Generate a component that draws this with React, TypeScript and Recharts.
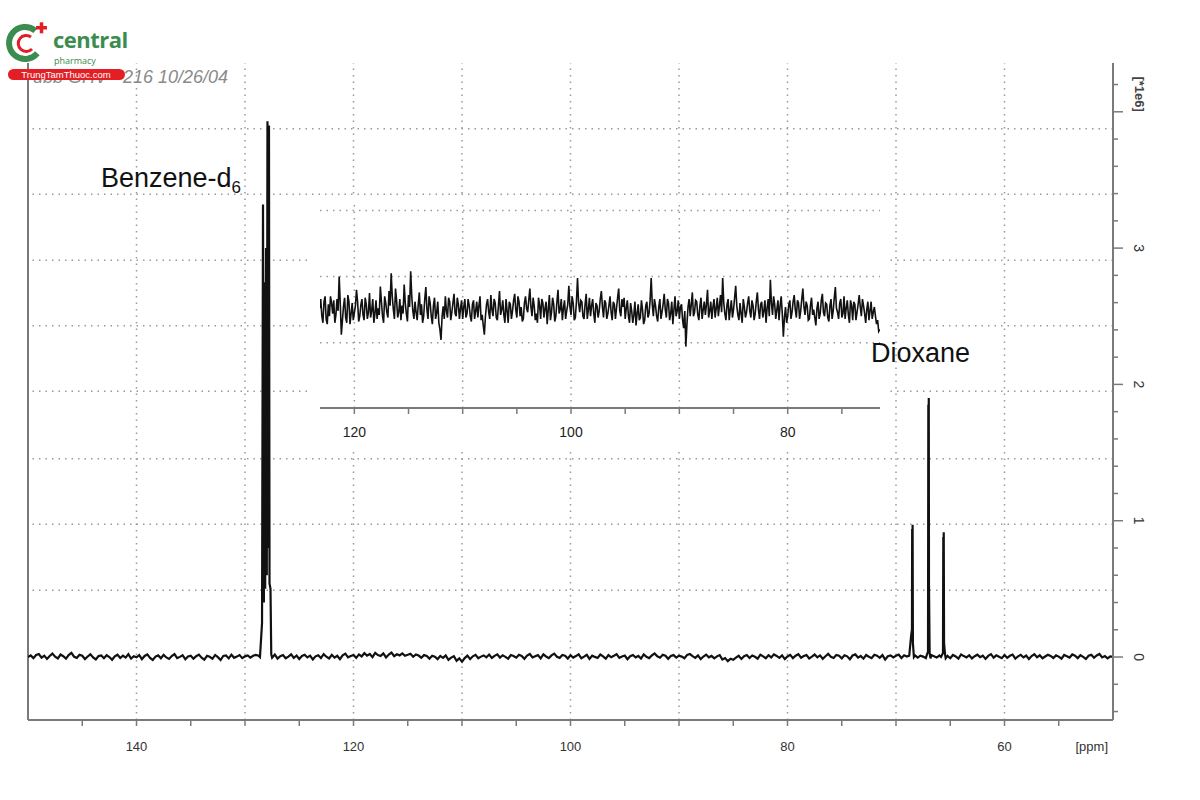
import React from 'react';
import { LineChart, Line, XAxis, YAxis, ReferenceLine } from 'recharts';

const FONT = '"Liberation Sans", Arial, sans-serif';

// baseline of the 13C spectrum, intensity in 1e3 units, read every 0.25 ppm from 150 ppm down to 50 ppm
const baselineStart = 150;
const baselineStep = 0.25;
const baselineMilli = [
  0, 12, -8, 15, 22, -5, 10, -14, 8, 25, 3, -10, 18, 6, -12, 14, 30, 2, -6, 16,
  9, -15, 4, 20, -3, -18, 7, 11, -9, 13, 0, -20, 5, 17, -7, 10, -4, 21, -11, 6,
  -2, 14, -16, 8, 19, -6, -21, 3, 12, -9, 16, -3, -14, 7, 22, -8, 1, 13, -17, 4,
  10, -12, 6, 18, -5, -19, 9, 2, -13, 15, -1, -22, 8, 11, -10, 17, -6, 3, 14, -8,
  5, 12, -4, 9, 16, 10, 0, 0, 0, 0, -5, 18, -12, 6, 15, -9, 3, 20, -7, 11,
  -14, 8, 17, -3, 10, -18, 5, 13, -8, 21, 2, -11, 16, -4, 9, -16, 12, 25, -2, 7,
  15, -6, 19, 4, 28, 10, 22, -1, 30, 14, 8, 26, -3, 18, 33, 6, 20, 12, 27, 9,
  16, 24, 2, 19, 11, -5, 14, 7, -12, 10, 3, -15, 8, -6, 12, -20, -4, 6, -28, -10,
  -34, -8, 10, -15, 5, 16, -9, 3, 12, -2, 18, -7, 9, 20, -4, 13, 1, -12, 15, 7,
  -5, 17, 8, -13, 11, 22, -3, 6, 14, -10, 19, 4, -8, 12, 25, 2, -6, 15, 9, -11,
  13, -4, 7, 20, -9, 3, 16, -14, 10, 1, -7, 18, 5, -12, 14, -2, 9, 21, -6, 4,
  11, -16, 6, 15, -3, 8, -11, 19, 2, -8, 12, 26, 5, -5, 17, 9, -13, 7, 14, -4,
  10, 3, -9, 16, 22, 6, -6, 12, -15, 4, 18, -2, 8, -10, 5, 14, -18, -8, -30, -12,
  -20, -4, 9, -14, 6, 15, -7, 11, 2, -12, 17, 5, -9, 13, -3, 20, 8, -6, 12, -15,
  4, 16, -8, 10, 21, -5, 7, 14, -11, 3, 18, -2, 12, -13, 6, 23, 1, -7, 15, 9,
  -10, 13, 5, -16, 11, 19, -4, 8, -12, 15, 2, -8, 17, 10, -6, 14, -19, 6, 12, -3,
  9, 18, -7, 13, 4, 0, 0, 12, -5, 10, 3, -8, 0, 14, 6, -4, 11, 0, 0, 8,
  -9, 15, 4, -12, 19, 7, -3, 13, -10, 6, 17, -1, 10, -14, 8, 21, -5, 12, 2, -8,
  14, -6, 9, 18, -11, 5, 16, -3, 11, -15, 7, 20, -2, 13, -9, 4, 17, 8, -7, 12,
  3, -12, 15, 6, -4, 19, 10, -8, 13, 1, -14, 9, 16, -6, 11, 22, -3, 7, -10, 5,
  2,
];

// ppm ranges where the peak lists below replace the baseline
const peakWindows = [
  [127.55, 128.65],
  [68.3, 68.8],
  [66.8, 67.2],
  [65.4, 65.9],
];

// benzene-d6 triplet
const benzenePpm = [128.62, 128.43, 128.34, 128.26, 128.2, 128.14, 128.06, 127.99, 127.93, 127.86, 127.79, 127.74, 127.65, 127.58];
const benzeneMilli = [0, 250, 3320, 400, 2750, 500, 3000, 600, 3930, 800, 3900, 540, 500, 20];

// dioxane lines
const dioxanePpm = [68.78, 68.6, 68.53, 68.51, 68.49, 68.47, 68.44, 68.35, 67.18, 67.05, 67.02, 67.0, 66.98, 66.96, 66.9, 66.82, 65.85, 65.67, 65.64, 65.62, 65.6, 65.57, 65.48, 65.42];
const dioxaneMilli = [10, 160, 200, 940, 400, 970, 100, 0, 10, 40, 1850, 600, 1900, 530, 30, -10, 0, 30, 880, 400, 915, 100, 20, -10];

const xTicks = [50, 55, 60, 65, 70, 75, 80, 85, 90, 95, 100, 105, 110, 115, 120, 125, 130, 135, 140, 145];
const xLabels = [140, 120, 100, 80, 60];
const yTicks = [-400, -200, 0, 200, 400, 600, 800, 1000, 1200, 1400, 1600, 1800, 2000, 2200, 2400, 2600, 2800, 3000, 3200, 3400, 3600, 3800, 4000, 4200];
const yLabels = [0, 1000, 2000, 3000];
const gridPpm = [140, 130, 120, 110, 100, 90, 80, 70, 60];
const gridRows = [490, 975, 1455, 1950, 2430, 2910, 3395, 3875];

// inset: expanded baseline, arbitrary units, read every 0.2 ppm from 123.2 ppm
const insetStart = 123.2;
const insetStep = 0.2;
const insetCenti = [
  52, 40, 62, 35, 58, 70, 44, 30, 66, 100, 12, 55, 38, 72, 28, 60, 45, 80, 32, 57,
  42, 68, 36, 75, 48, 30, 64, 52, 85, 40, 70, 46, 78, 105, 50, 82, 38, 66, 56, 88,
  44, 72, 108, 48, 62, 34, 76, 58, 40, 84, 36, 60, 28, 68, 45, 30, 4, 55, 70, 38,
  62, 46, 74, 40, 58, 52, 36, 66, 44, 56, 32, 64, 48, 38, 70, 42, 12, 58, 46, 72,
  40, 60, 34, 78, 50, 42, 66, 30, 58, 48, 74, 38, 62, 54, 36, 70, 46, 82, 40, 56,
  44, 68, 36, 60, 52, 28, 72, 46, 58, 40, 80, 50, 34, 64, 48, 86, 42, 60, 38, 98,
  46, 62, 36, 74, 50, 40, 66, 30, 56, 48, 78, 38, 60, 44, 70, 34, 58, 52, 82, 40,
  54, 36, 64, 30, 48, 42, 26, 58, 38, 50, 34, 62, 44, 98, 40, 56, 32, 66, 46, 74,
  38, 60, 44, 28, 70, 48, 36, 58, 22, -6, 54, 40, 76, 46, 62, 34, 68, 50, 42, 80,
  48, 36, 66, 52, 40, 72, 98, 44, 58, 34, 64, 50, 86, 42, 60, 30, 54, 46, 70, 38,
  56, 44, 76, 36, 62, 48, 30, 66, 95, 42, 58, 50, 34, 70, 9, 54, 40, 64, 46, 72,
  38, 60, 48, 82, 42, 56, 36, 68, 50, 26, 62, 44, 74, 40, 58, 32, 66, 48, 84, 46,
  60, 38, 70, 52, 42, 64, 34, 58, 46, 72, 40, 56, 30, 62, 48, 36, 54, 28, 17,
];
// inset points lying halfway between the ones above (123.1, 122.9, ... ppm)
const insetMidStart = 123.1;
const insetMidCenti = [
  66, 30, 70, 28, 40, 60, 64, 42, 48, 60, 34, 68, 30, 62, 44, 34, 56, 62, 40, 66,
  34, 58, 46, 38, 66, 44, 36, 42, 62, 30, 60, 38, 56, 70, 36, 64, 46, 34, 44, 60,
  32, 54, 70, 36, 46, 58, 42, 30, 66, 50, 70, 40, 56, 36, 62, 20, 40, 36, 48, 68,
  34, 60, 44, 68, 36, 64, 54, 38, 66, 40, 58, 36, 62, 56, 34, 26, 40, 66, 36, 50,
  66, 38, 56, 42, 64, 30, 48, 62, 36, 64, 50, 70, 40, 32, 60, 52, 64, 54, 68, 34,
  30, 56, 66, 38, 62, 50, 34, 68, 32, 62, 44, 66, 52, 36, 58, 54, 70, 34, 62, 60,
  64, 40, 58, 36, 68, 56, 44, 60, 38, 66, 54, 64, 36, 56, 46, 62, 36, 68, 48, 66,
  68, 52, 40, 60, 30, 62, 44, 34, 64, 28, 56, 38, 64, 58, 66, 40, 54, 36, 58, 50,
  66, 34, 62, 50, 40, 64, 54, 34, 48, 28, 66, 58, 40, 64, 42, 56, 36, 62, 58, 38,
  62, 54, 38, 68, 56, 46, 60, 34, 66, 50, 38, 68, 56, 34, 44, 66, 38, 60, 48, 64,
  34, 62, 50, 58, 38, 64, 52, 40, 60, 70, 36, 64, 56, 44, 38, 30, 58, 36, 62, 50,
  64, 36, 66, 54, 62, 34, 56, 42, 38, 52, 36, 64, 46, 60, 38, 56, 36, 68, 52, 36,
  66, 44, 36, 64, 30, 56, 62, 34, 58, 54, 66, 44, 50, 34, 62, 46, 40, 34, 20,
];
const insetTicks = [75, 80, 85, 90, 95, 100, 105, 110, 115, 120];
const insetLabels = [120, 100, 80];
const insetGridPpm = [120, 110, 100, 90, 80];
const insetGridRows = [0, 100, 200];

const inWindow = (p: number) => peakWindows.some(([a, b]) => p > a && p < b);

const mainData = [
  ...baselineMilli.map((v, i) => ({ ppm: baselineStart - i * baselineStep, v })).filter((r) => !inWindow(r.ppm)),
  ...benzenePpm.map((p, i) => ({ ppm: p, v: benzeneMilli[i] })),
  ...dioxanePpm.map((p, i) => ({ ppm: p, v: dioxaneMilli[i] })),
].sort((a, b) => b.ppm - a.ppm);

const insetData = [
  ...insetCenti.map((v, i) => ({ ppm: insetStart - i * insetStep, v })),
  ...insetMidCenti.map((v, i) => ({ ppm: insetMidStart - i * insetStep, v })),
].sort((a, b) => b.ppm - a.ppm);

const AXIS = '#7a7a7a';
const GRID = '#9a9a9a';

const MainXTick = ({ x, y, payload }: any) => {
  const v = payload.value;
  return (
    <g>
      {v > 50 && v < 150 && <line x1={x} x2={x} y1={y} y2={y + 6} stroke={AXIS} strokeWidth={1.5} />}
      {xLabels.includes(v) && (
        <text x={x} y={y + 31} textAnchor="middle" fontSize={13} fill="#333" fontFamily={FONT}>{v}</text>
      )}
      {v === 50 && (
        <text x={x - 5} y={y + 31} textAnchor="end" fontSize={13} fill="#333" fontFamily={FONT}>[ppm]</text>
      )}
    </g>
  );
};

const MainYTick = ({ x, y, payload }: any) => {
  const v = payload.value;
  const major = v % 1000 === 0;
  return (
    <g>
      <line x1={x} x2={x + (major ? 10 : 5)} y1={y} y2={y} stroke={AXIS} strokeWidth={1.5} />
      {yLabels.includes(v) && (
        <text transform={`translate(${x + 26},${y}) rotate(90)`} textAnchor="middle" dominantBaseline="central" fontSize={14} fill="#333" fontFamily={FONT}>
          {v / 1000}
        </text>
      )}
      {v === 4000 && (
        <text transform={`translate(${x + 26},${y}) rotate(90)`} textAnchor="end" dominantBaseline="central" fontSize={13} fontWeight="bold" fill="#444" fontFamily={FONT}>
          [*1e6]
        </text>
      )}
    </g>
  );
};

const InsetXTick = ({ x, y, payload }: any) => {
  const v = payload.value;
  return (
    <g>
      <line x1={x} x2={x} y1={y} y2={y + 6} stroke={AXIS} strokeWidth={1.5} />
      {insetLabels.includes(v) && (
        <text x={x} y={y + 29} textAnchor="middle" fontSize={14} fill="#222" fontFamily={FONT}>{v}</text>
      )}
    </g>
  );
};

const Logo = () => (
  <g>
    <path d="M 35.3 30.7 A 16 16 0 1 0 37.3 53.3" stroke="#3b8d4f" strokeWidth={6} fill="none" />
    <path d="M 31 37 A 8 8 0 1 0 32 49" stroke="#e31e24" strokeWidth={3} fill="none" />
    <rect x={36} y={26} width={11} height={3.5} fill="#e31e24" />
    <rect x={39.75} y={22.3} width={3.5} height={11} fill="#e31e24" />
    <text x={53} y={48} fontSize={22} fontWeight="bold" fill="#3b8d4f" fontFamily='"Open Sans", sans-serif' letterSpacing={-0.5}>central</text>
    <text x={54} y={64} fontSize={9} fill="#3b8d4f" fontFamily='"Open Sans", sans-serif'>pharmacy</text>
  </g>
);

export default function App() {
  return (
    <div style={{ position: 'absolute', left: 0, top: 0, width: 1200, height: 800, background: '#fff', overflow: 'hidden' }}>
      <div style={{ position: 'absolute', left: 0, top: 0 }}>
        <LineChart width={1200} height={800} data={mainData} margin={{ top: 63, right: 27, bottom: 40, left: 28 }}>
          <XAxis
            dataKey="ppm"
            type="number"
            domain={[50, 150]}
            reversed
            allowDataOverflow
            ticks={xTicks}
            interval={0}
            height={40}
            tickSize={0}
            tickMargin={0}
            tickLine={false}
            axisLine={{ stroke: AXIS, strokeWidth: 2 }}
            tick={<MainXTick />}
          />
          <YAxis
            orientation="right"
            type="number"
            domain={[-462, 4358]}
            allowDataOverflow
            ticks={yTicks}
            interval={0}
            width={60}
            tickSize={0}
            tickMargin={0}
            tickLine={false}
            axisLine={{ stroke: AXIS, strokeWidth: 2 }}
            tick={<MainYTick />}
          />
          {gridPpm.map((p) => (
            <ReferenceLine key={`gx${p}`} x={p} stroke={GRID} strokeWidth={1.5} strokeDasharray="1.5 5" />
          ))}
          {gridRows.map((r) => (
            <ReferenceLine key={`gy${r}`} y={r} stroke={GRID} strokeWidth={1.5} strokeDasharray="1.5 5" />
          ))}
          <ReferenceLine x={150} stroke={AXIS} strokeWidth={2} />
          <Line type="linear" dataKey="v" stroke="#111" strokeWidth={2.2} dot={false} isAnimationActive={false} />
        </LineChart>
      </div>

      <div style={{ position: 'absolute', left: 310, top: 198, width: 580, height: 250, background: '#fff' }}>
        <LineChart width={580} height={250} data={insetData} margin={{ top: 2, right: 10, bottom: 5, left: 10 }}>
          <XAxis
            dataKey="ppm"
            type="number"
            domain={[71.48, 123.17]}
            reversed
            allowDataOverflow
            ticks={insetTicks}
            interval={0}
            height={35}
            tickSize={0}
            tickMargin={0}
            tickLine={false}
            axisLine={{ stroke: AXIS, strokeWidth: 2 }}
            tick={<InsetXTick />}
          />
          <YAxis hide type="number" domain={[-99, 216]} allowDataOverflow />
          {insetGridPpm.map((p) => (
            <ReferenceLine key={`ix${p}`} x={p} stroke={GRID} strokeWidth={1.5} strokeDasharray="1.5 5" />
          ))}
          {insetGridRows.map((r) => (
            <ReferenceLine key={`iy${r}`} y={r} stroke={GRID} strokeWidth={1.5} strokeDasharray="1.5 5" />
          ))}
          <Line type="linear" dataKey="v" stroke="#111" strokeWidth={1.6} dot={false} isAnimationActive={false} />
        </LineChart>
      </div>

      <svg width={1200} height={800} style={{ position: 'absolute', left: 0, top: 0, pointerEvents: 'none' }}>
        <text x={33} y={83} fontSize={18} fontStyle="italic" fill="#8a8a8a" fontFamily={FONT}>ubb GHV - 216 10/26/04</text>
        <rect x={8} y={69} width={117} height={11} rx={5.5} fill="#e31e24" />
        <text x={66} y={78} fontSize={9.5} fill="#fff" textAnchor="middle" fontFamily={FONT}>TrungTamThuoc.com</text>
        <Logo />
        <text x={101} y={187} fontSize={27} fill="#111" fontFamily={FONT}>
          Benzene-d<tspan fontSize={17} dy={6}>6</tspan>
        </text>
        <text x={871} y={362} fontSize={27} fill="#111" fontFamily={FONT}>Dioxane</text>
      </svg>
    </div>
  );
}
